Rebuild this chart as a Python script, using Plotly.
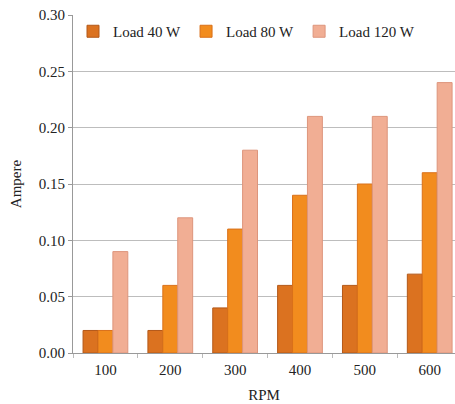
import plotly.graph_objects as go

rpm = ["100", "200", "300", "400", "500", "600"]
load_40 = [0.02, 0.02, 0.04, 0.06, 0.06, 0.07]
load_80 = [0.02, 0.06, 0.11, 0.14, 0.15, 0.16]
load_120 = [0.09, 0.12, 0.18, 0.21, 0.21, 0.24]
y_ticks = [0.0, 0.05, 0.10, 0.15, 0.20, 0.25, 0.30]
y_tick_labels = ["0.00", "0.05", "0.10", "0.15", "0.20", "0.25", "0.30"]

font = "Liberation Serif, Times New Roman, serif"

fig = go.Figure()
fig.add_trace(go.Bar(x=rpm, y=load_40, name="Load 40 W",
                     marker=dict(color="#DB7220", line=dict(color="#B35818", width=1))))
fig.add_trace(go.Bar(x=rpm, y=load_80, name="Load 80 W",
                     marker=dict(color="#F28C1E", line=dict(color="#D9701A", width=1))))
fig.add_trace(go.Bar(x=rpm, y=load_120, name="Load 120 W",
                     marker=dict(color="#F1AE94", line=dict(color="#DD957C", width=1))))

fig.update_layout(
    width=455, height=404,
    margin=dict(l=73, r=0, t=15, b=51),
    paper_bgcolor="white", plot_bgcolor="white",
    barmode="group", bargap=0.31, bargroupgap=0,
    font=dict(family=font, size=15, color="#222"),
    legend=dict(orientation="h", x=0.0, y=1.0, xanchor="left", yanchor="top",
                bgcolor="rgba(0,0,0,0)", font=dict(size=15, family=font),
                itemwidth=30, tracegroupgap=0),
    showlegend=True,
)
fig.update_xaxes(
    title=dict(text="RPM", font=dict(size=15, family=font), standoff=12),
    range=[-0.5, 5.39], showline=True, linecolor="#999", linewidth=1,
    ticks="outside", tickson="boundaries", ticklen=4, tickcolor="#bbb",
    ticklabelstandoff=3,
    showgrid=False, tickfont=dict(size=15, family=font),
)
fig.update_yaxes(
    title=dict(text="Ampere", font=dict(size=15, family=font), standoff=13),
    range=[0, 0.30], tickvals=y_ticks, ticktext=y_tick_labels,
    showline=True, linecolor="#999", linewidth=1,
    showgrid=True, gridcolor="#bdbdbd", gridwidth=1.3,
    ticks="outside", ticklen=4, tickcolor="#999",
    tickfont=dict(size=15, family=font), zeroline=False,
)
fig.write_html("out.html", config={"displayModeBar": False},
               post_script="document.body.style.margin='0';document.body.style.overflow='hidden';")
